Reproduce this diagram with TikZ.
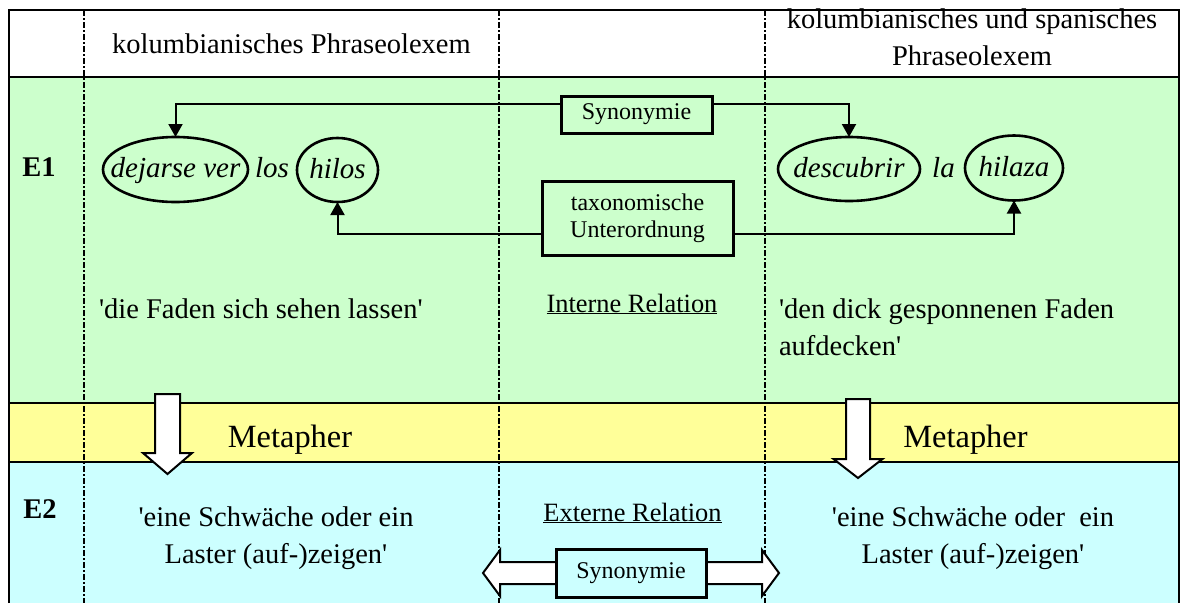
\documentclass[tikz,border=0pt]{standalone}
\usepackage{fontspec}
\setmainfont{Liberation Serif}
\usetikzlibrary{arrows.meta,shapes.geometric}

\definecolor{rowgreen}{HTML}{CCFFCC}
\definecolor{rowyellow}{HTML}{FFFF99}
\definecolor{rowcyan}{HTML}{CCFFFF}

\newcommand{\fsBody}{\fontsize{28.5}{36.5}\selectfont}
\newcommand{\fsLabel}{\fontsize{28.5}{32}\selectfont\bfseries}
\newcommand{\fsIt}{\fontsize{29}{34}\selectfont\itshape}
\newcommand{\fsSmall}{\fontsize{24}{27}\selectfont}
\newcommand{\fsRel}{\fontsize{26.4}{30}\selectfont}
\newcommand{\fsMeta}{\fontsize{32.4}{38}\selectfont}

\begin{document}
\begin{tikzpicture}[x=1pt,y=-1pt,
  every node/.style={inner sep=0pt, outer sep=0pt},
  body/.style={font=\fsBody},
  lbl/.style={font=\fsLabel},
  term/.style={draw, ellipse, line width=2.6pt},
  termtext/.style={font=\fsIt, text height=20pt, text depth=4pt, inner sep=0pt},
  relbox/.style={draw, line width=3pt, font=\fsSmall, align=center},
  conn/.style={line width=2pt, -{Triangle[length=13pt,width=14pt]}},
  colsep/.style={line width=1.8pt, dash pattern=on 6pt off 2pt on 2pt off 2pt},
  rowrule/.style={line width=2.6pt},
  blockarrow/.style={draw, fill=white, line width=2pt, line join=miter},
]
\useasboundingbox (0,0) rectangle (1181,603);
\fill[white] (0,0) rectangle (1181,603);

% table rows
\fill[white] (9,10) rectangle (1179,77);
\fill[rowgreen] (9,77) rectangle (1179,403);
\fill[rowyellow] (9,403) rectangle (1179,462);
\fill[rowcyan] (9,462) rectangle (1179,603);

% column separators
\foreach \cx in {84,499,765}
  \draw[colsep] (\cx,10) -- (\cx,603);

% row borders and frame
\draw[rowrule] (9,77) -- (1179,77);
\draw[rowrule] (9,403) -- (1179,403);
\draw[rowrule] (9,462) -- (1179,462);
\draw[rowrule] (9,603) -- (9,10) -- (1179,10) -- (1179,603);

% header (base anchor of a two-line node is its last baseline)
\node[body, anchor=base] (hL) at (291.5,53) {kolumbianisches Phraseolexem};
\node[body, anchor=base, align=center] (hR) at (972,65) {kolumbianisches und spanisches\\Phraseolexem};

% row labels
\node[lbl, anchor=base] (e1) at (39,176) {E1};
\node[lbl, anchor=base] (e2) at (40,518) {E2};

% phraseolexemes: fixed-size ellipses, words set as centred labels
\node[term, minimum width=145pt, minimum height=65pt, label={[termtext]center:dejarse ver}] (dej) at (175.5,169.5) {};
\node[font=\fsIt, anchor=base] (los) at (272,177) {los};
\node[term, minimum width=81pt, minimum height=64pt, label={[termtext]center:hilos}] (hilos) at (337.5,170) {};
\node[term, minimum width=142pt, minimum height=64pt, label={[termtext]center:descubrir}] (desc) at (849,169) {};
\node[font=\fsIt, anchor=base] (la) at (943.5,177) {la};
\node[term, minimum width=98pt, minimum height=65pt, label={[termtext]center:hilaza}] (hilaza) at (1014,168) {};

% internal relations
\node[relbox, fill=rowgreen, minimum width=151pt, minimum height=37pt] (syn) at (636.5,114.5) {Synonymie};
\node[relbox, fill=rowgreen, minimum width=191pt, minimum height=74pt] (tax) at (637.5,218) {taxonomische\\Unterordnung};

\draw[conn] ([yshift=11pt]syn.west) -| (dej.north);
\draw[conn] ([yshift=11pt]syn.east) -| (desc.north);
\draw[conn] ([yshift=-16pt]tax.west) -| (hilos.south);
\draw[conn] ([yshift=-16pt]tax.east) -| (hilaza.south);

% literal meanings
\node[body, anchor=base west] (litL) at (99,318) {\textquotesingle die Faden sich sehen lassen\textquotesingle};
\node[body, anchor=base west, align=left] (litR) at (779,355) {\textquotesingle den dick gesponnenen Faden\\aufdecken\textquotesingle};
\node[font=\fsRel, anchor=base] (intrel) at (632,312) {\underline{Interne Relation}};

% metaphor arrows
\coordinate (metaL) at (167.5,394);
\coordinate (metaR) at (858,399);
\draw[blockarrow] (metaL) ++(-12.5,0) -- ++(25,0) -- ++(0,59) -- ++(12,0) -- (167.5,474) -- (143,453) -- (155,453) -- cycle;
\draw[blockarrow] (metaR) ++(-12,0) -- ++(24,0) -- ++(0,60) -- ++(12.5,0) -- (858,478) -- (833.5,459) -- (846,459) -- cycle;
\node[font=\fsMeta, anchor=base] (metL) at (290,447) {Metapher};
\node[font=\fsMeta, anchor=base] (metR) at (965.5,447) {Metapher};

% figurative meanings
\node[body, anchor=base, align=center] (figL) at (276,563) {\textquotesingle eine Schwäche oder ein\\Laster (auf-)zeigen\textquotesingle};
\node[body, anchor=base, align=center] (figR) at (973,563) {\textquotesingle eine Schwäche oder\ \ ein\\Laster (auf-)zeigen\textquotesingle};

% external relation
\node[font=\fsRel, anchor=base] (extrel) at (632.5,521) {\underline{Externe Relation}};
\draw[blockarrow] (483,573) -- (500,550) -- (500,562) -- (762,562) -- (762,550) -- (779,573) -- (762,596) -- (762,584) -- (500,584) -- (500,596) -- cycle;
\node[relbox, fill=rowcyan, minimum width=150pt, minimum height=48pt] (synE) at (631,573) {Synonymie};
\end{tikzpicture}
\end{document}
